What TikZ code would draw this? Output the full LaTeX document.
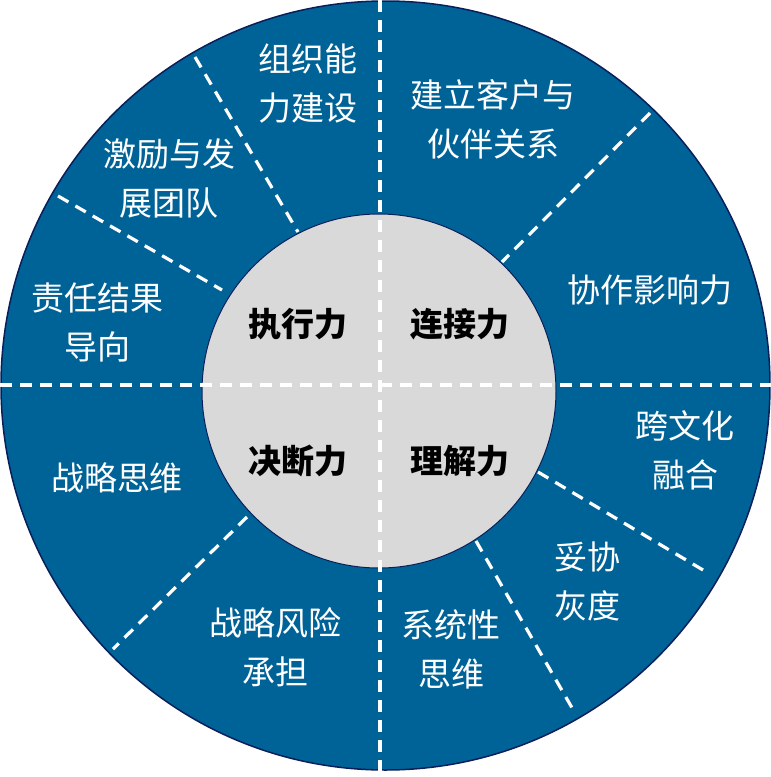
\documentclass[tikz,border=0pt]{standalone}
\usepackage{fontspec}
\setmainfont{Noto Sans CJK SC}
\definecolor{wheelblue}{RGB}{0,99,151}
\definecolor{navyline}{RGB}{10,30,90}
\definecolor{coregray}{RGB}{217,217,217}
\tikzset{
  wheel/.style={circle, fill=wheelblue, draw=navyline, line width=1.5pt, inner sep=0pt},
  core/.style={circle, fill=coregray, draw=navyline, line width=1pt, inner sep=0pt},
  divider/.style={draw=white, line width=3.2pt, dash pattern=on 12pt off 8pt},
  outtext/.style={text=white, align=center, font=\fontsize{33}{49}\selectfont, inner sep=0pt},
  intext/.style={text=black, align=center, font=\fontsize{33}{40}\selectfont\bfseries, inner sep=0pt}
}
\begin{document}
\begin{tikzpicture}[x=1pt,y=-1pt]
\useasboundingbox (0,0) rectangle (771,777);
\node[wheel, minimum size=769pt] (wheel) at (385.5,385.5) {};
% diagonal dividers
\draw[divider] (195,57) -- (298,232);
\draw[divider] (58,196) -- (222,290);
\draw[divider] (650,113) -- (502,262);
\draw[divider] (538,472) -- (703,570);
\draw[divider] (476,541) -- (575,713);
\draw[divider] (247,517) -- (113,649);
% core
\node[core, minimum size=354pt] (core) at (379,391) {};
% cross
\draw[divider] (380,0) -- (380,777);
\draw[divider] (0,385) -- (771,385);
% outer labels
\node[outtext] (t1) at (308,83) {组织能\\力建设};
\node[outtext] (t2) at (493,119) {建立客户与\\伙伴关系};
\node[outtext] (t3) at (169,178) {激励与发\\展团队};
\node[outtext] (t4) at (650,290) {协作影响力};
\node[outtext] (t5) at (97,322) {责任结果\\导向};
\node[outtext] (t6) at (117,478) {战略思维};
\node[outtext] (t7) at (685,450) {跨文化\\融合};
\node[outtext] (t8) at (587,581) {妥协\\灰度};
\node[outtext] (t9) at (275,647) {战略风险\\承担};
\node[outtext] (t10) at (451,649) {系统性\\思维};
% inner labels
\node[intext] (c1) at (298,324) {执行力};
\node[intext] (c2) at (460,324) {连接力};
\node[intext] (c3) at (298,461) {决断力};
\node[intext] (c4) at (460,461) {理解力};
\end{tikzpicture}
\end{document}
